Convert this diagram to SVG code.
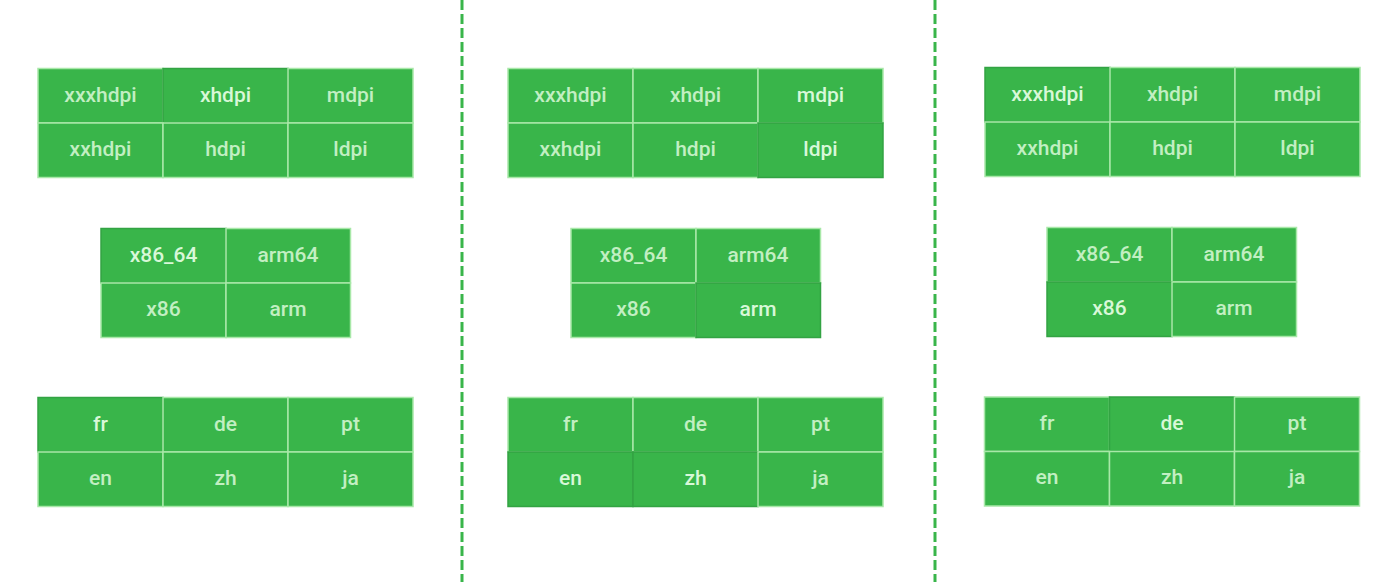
<svg xmlns="http://www.w3.org/2000/svg" width="1400" height="582" viewBox="0 0 1400 582">
<style>
.c{fill:#39b54a;stroke:#a8e8a8;stroke-width:1.5}
.s{fill:#39b54a;stroke:#33a343;stroke-width:1.5}
.t{font-family:Roboto,"Liberation Sans",sans-serif;font-size:21px;font-weight:500;fill:#c2efc2;text-anchor:middle}
.b{fill:#d8f8d8}
.d{stroke:#39b54a;stroke-width:3;stroke-dasharray:10 4;fill:none}
</style>
<rect width="1400" height="582" fill="#ffffff"/>
<g id="connectors">
<line class="d" x1="462" y1="0" x2="462" y2="582"/>
<line class="d" x1="935" y1="0" x2="935" y2="582"/>
</g>
<g id="left-density">
<rect class="c" x="38" y="68.5" width="125" height="54.5"/><text class="t" x="100.5" y="102">xxxhdpi</text>
<rect class="s" x="163" y="68.5" width="125" height="54.5"/><text class="t b" x="225.5" y="102">xhdpi</text>
<rect class="c" x="288" y="68.5" width="125" height="54.5"/><text class="t" x="350.5" y="102">mdpi</text>
<rect class="c" x="38" y="123" width="125" height="54.5"/><text class="t" x="100.5" y="156">xxhdpi</text>
<rect class="c" x="163" y="123" width="125" height="54.5"/><text class="t" x="225.5" y="156">hdpi</text>
<rect class="c" x="288" y="123" width="125" height="54.5"/><text class="t" x="350.5" y="156">ldpi</text>
</g>
<g id="left-abi">
<rect class="s" x="101" y="228.5" width="125" height="54.5"/><text class="t b" x="163.5" y="262">x86_64</text>
<rect class="c" x="226" y="228.5" width="124.5" height="54.5"/><text class="t" x="288" y="262">arm64</text>
<rect class="c" x="101" y="283" width="125" height="54.5"/><text class="t" x="163.5" y="316">x86</text>
<rect class="c" x="226" y="283" width="124.5" height="54.5"/><text class="t" x="288" y="316">arm</text>
</g>
<g id="left-lang">
<rect class="s" x="38" y="397.5" width="125" height="54.5"/><text class="t b" x="100.5" y="431">fr</text>
<rect class="c" x="163" y="397.5" width="125" height="54.5"/><text class="t" x="225.5" y="431">de</text>
<rect class="c" x="288" y="397.5" width="125" height="54.5"/><text class="t" x="350.5" y="431">pt</text>
<rect class="c" x="38" y="452" width="125" height="54.5"/><text class="t" x="100.5" y="485">en</text>
<rect class="c" x="163" y="452" width="125" height="54.5"/><text class="t" x="225.5" y="485">zh</text>
<rect class="c" x="288" y="452" width="125" height="54.5"/><text class="t" x="350.5" y="485">ja</text>
</g>
<g id="mid-density">
<rect class="c" x="508" y="68.5" width="125" height="54.5"/><text class="t" x="570.5" y="102">xxxhdpi</text>
<rect class="c" x="633" y="68.5" width="125" height="54.5"/><text class="t" x="695.5" y="102">xhdpi</text>
<rect class="c" x="758" y="68.5" width="125" height="54.5"/><text class="t b" x="820.5" y="102">mdpi</text>
<rect class="c" x="508" y="123" width="125" height="54.5"/><text class="t" x="570.5" y="156">xxhdpi</text>
<rect class="c" x="633" y="123" width="125" height="54.5"/><text class="t" x="695.5" y="156">hdpi</text>
<rect class="s" x="758" y="123" width="125" height="54.5"/><text class="t b" x="820.5" y="156">ldpi</text>
</g>
<g id="mid-abi">
<rect class="c" x="571" y="228.5" width="125" height="54.5"/><text class="t" x="633.5" y="262">x86_64</text>
<rect class="c" x="696" y="228.5" width="124.5" height="54.5"/><text class="t" x="758" y="262">arm64</text>
<rect class="c" x="571" y="283" width="125" height="54.5"/><text class="t" x="633.5" y="316">x86</text>
<rect class="s" x="696" y="283" width="124.5" height="54.5"/><text class="t b" x="758" y="316">arm</text>
</g>
<g id="mid-lang">
<rect class="c" x="508" y="397.5" width="125" height="54.5"/><text class="t" x="570.5" y="431">fr</text>
<rect class="c" x="633" y="397.5" width="125" height="54.5"/><text class="t" x="695.5" y="431">de</text>
<rect class="c" x="758" y="397.5" width="125" height="54.5"/><text class="t" x="820.5" y="431">pt</text>
<rect class="s" x="508" y="452" width="125" height="54.5"/><text class="t b" x="570.5" y="485">en</text>
<rect class="s" x="633" y="452" width="125" height="54.5"/><text class="t b" x="695.5" y="485">zh</text>
<rect class="c" x="758" y="452" width="125" height="54.5"/><text class="t" x="820.5" y="485">ja</text>
</g>
<g id="right-density">
<rect class="s" x="985" y="67.5" width="125" height="54.5"/><text class="t b" x="1047.5" y="101">xxxhdpi</text>
<rect class="c" x="1110" y="67.5" width="125" height="54.5"/><text class="t" x="1172.5" y="101">xhdpi</text>
<rect class="c" x="1235" y="67.5" width="125" height="54.5"/><text class="t" x="1297.5" y="101">mdpi</text>
<rect class="c" x="985" y="122" width="125" height="54.5"/><text class="t" x="1047.5" y="155">xxhdpi</text>
<rect class="c" x="1110" y="122" width="125" height="54.5"/><text class="t" x="1172.5" y="155">hdpi</text>
<rect class="c" x="1235" y="122" width="125" height="54.5"/><text class="t" x="1297.5" y="155">ldpi</text>
</g>
<g id="right-abi">
<rect class="c" x="1047" y="227.5" width="125" height="54.5"/><text class="t" x="1109.5" y="261">x86_64</text>
<rect class="c" x="1172" y="227.5" width="124.5" height="54.5"/><text class="t" x="1234" y="261">arm64</text>
<rect class="s" x="1047" y="282" width="125" height="54.5"/><text class="t b" x="1109.5" y="315">x86</text>
<rect class="c" x="1172" y="282" width="124.5" height="54.5"/><text class="t" x="1234" y="315">arm</text>
</g>
<g id="right-lang">
<rect class="c" x="984.5" y="397" width="125" height="54.5"/><text class="t" x="1047" y="430">fr</text>
<rect class="s" x="1109.5" y="397" width="125" height="54.5"/><text class="t b" x="1172" y="430">de</text>
<rect class="c" x="1234.5" y="397" width="125" height="54.5"/><text class="t" x="1297" y="430">pt</text>
<rect class="c" x="984.5" y="451.5" width="125" height="54.5"/><text class="t" x="1047" y="484">en</text>
<rect class="c" x="1109.5" y="451.5" width="125" height="54.5"/><text class="t" x="1172" y="484">zh</text>
<rect class="c" x="1234.5" y="451.5" width="125" height="54.5"/><text class="t" x="1297" y="484">ja</text>
</g>
</svg>
